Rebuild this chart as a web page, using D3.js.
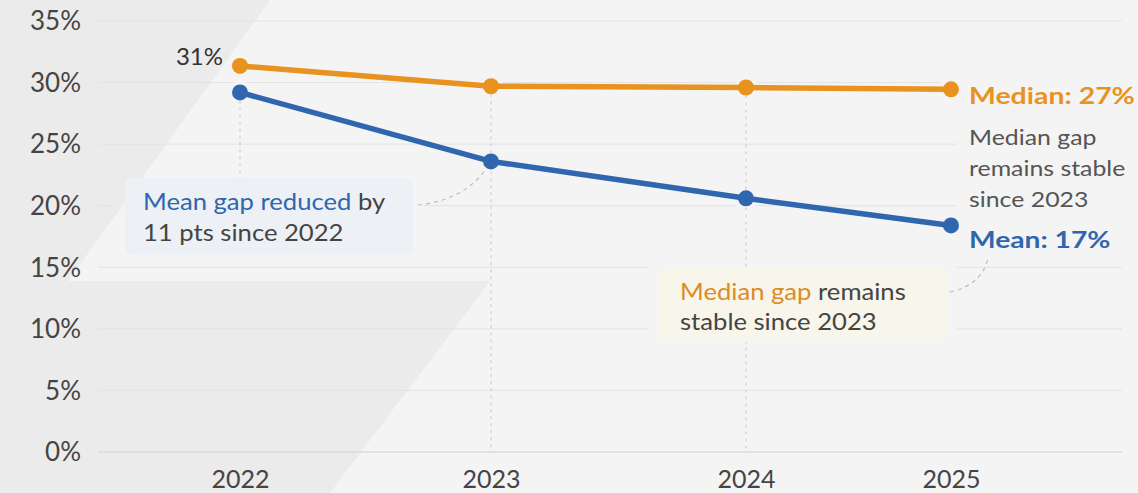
<!DOCTYPE html>
<html><head><meta charset="utf-8">
<script src="https://cdn.jsdelivr.net/npm/d3@7"></script>
<style>
html,body{margin:0;padding:0;background:#f4f4f4;}
svg{display:block;font-family:Lato, "Open Sans", sans-serif;}
</style></head>
<body>
<svg id="chart" width="1138" height="493"></svg>
<script>
const years = [2022, 2023, 2024, 2025];
const medianGap = [31.35, 29.7, 29.6, 29.45];
const meanGap = [29.2, 23.6, 20.6, 18.4];
const yTicks = [0, 5, 10, 15, 20, 25, 30, 35];
const firstLabel = "31%";
const medianLabel = "Median: 27%";
const meanLabel = "Mean: 17%";
const sideNote = ["Median gap", "remains stable", "since 2023"];

const W = 1138, H = 493;
const svg = d3.select("#chart");
const blue = "#2f66ae", orange = "#e8921f", bg = "#f4f4f4", dark = "#ebebeb";

const x = d3.scaleLinear().domain(years).range([240, 491, 746, 951]);
const y = d3.scaleLinear().domain([0, 35]).range([452, 21]);

// background shapes
svg.append("rect").attr("width", W).attr("height", H).attr("fill", bg);
svg.append("path").attr("fill", dark)
  .attr("d", "M0,0 L270,0 L68,281 L490,281 L330,493 L0,493 Z");

// mask for gridlines (halos)
const defs = svg.append("defs");
const mask = defs.append("mask").attr("id", "gm").attr("maskUnits", "userSpaceOnUse")
  .attr("x", 0).attr("y", 0).attr("width", W).attr("height", H);
mask.append("rect").attr("width", W).attr("height", H).attr("fill", "#fff");
mask.append("rect").attr("x", 113).attr("y", 166).attr("width", 311).attr("height", 100).attr("fill", "#000");
mask.append("rect").attr("x", 648).attr("y", 256).attr("width", 309).attr("height", 98).attr("fill", "#000");
mask.append("rect").attr("x", 957).attr("y", 74).attr("width", 181).attr("height", 186).attr("fill", "#000");
[medianGap, meanGap].forEach(s => s.forEach((v, i) =>
  mask.append("circle").attr("cx", x(years[i])).attr("cy", y(v)).attr("r", 12).attr("fill", "#000")));

// gridlines
const grid = svg.append("g").attr("mask", "url(#gm)");
grid.selectAll("line").data(yTicks).join("line")
  .attr("x1", 98).attr("x2", 1122)
  .attr("y1", d => y(d)).attr("y2", d => y(d))
  .attr("stroke", d => d === 0 ? "#dcdcdc" : "#e3e3e3").attr("stroke-width", d => d === 0 ? 1.5 : 1);

// y axis labels
const yAxis = d3.axisLeft(y).tickValues(yTicks).tickFormat(d => d + "%").tickSize(0).tickPadding(0);
const yg = svg.append("g").attr("transform", "translate(81,0)").call(yAxis);
yg.select(".domain").remove();
yg.selectAll("text").attr("font-size", 26).attr("fill", "#444").attr("font-family", "Lato, sans-serif").attr("dy", "0.34em");

// x axis labels
const xAxis = d3.axisBottom(x).tickValues(years).tickFormat(d3.format("d")).tickSize(0).tickPadding(0);
const xg = svg.append("g").attr("transform", "translate(0,470)").call(xAxis);
xg.select(".domain").remove();
xg.selectAll("text").attr("font-size", 25).attr("fill", "#444").attr("font-family", "Lato, sans-serif").attr("dy", "0.71em");

// vertical dotted guides
const guides = svg.append("g").attr("stroke", "#cfcfcf").attr("stroke-width", 1.2).attr("stroke-dasharray", "3,4");
guides.append("line").attr("x1", x(2022)).attr("x2", x(2022)).attr("y1", y(meanGap[0]) + 8).attr("y2", 178);
years.slice(1, 3).forEach((yr, i) => {
  guides.append("line").attr("x1", x(yr)).attr("x2", x(yr))
    .attr("y1", y(medianGap[i + 1]) + 8).attr("y2", y(0));
});

// annotation boxes
svg.append("rect").attr("x", 125).attr("y", 178).attr("width", 288).attr("height", 77).attr("rx", 6).attr("fill", "#edf1f5");
svg.append("rect").attr("x", 660).attr("y", 268).attr("width", 287).attr("height", 74).attr("rx", 6).attr("fill", "#f8f5ea");

// connectors
const conn = svg.append("g").attr("fill", "none").attr("stroke", "#bdbdbd").attr("stroke-width", 1.2).attr("stroke-dasharray", "4,4");
conn.append("path").attr("d", `M418,205 Q465,200 ${x(2023) - 4},${y(meanGap[1]) + 6}`);
conn.append("path").attr("d", "M950,292 Q982,285 988,258");

// lines
const line = d3.line().x((d, i) => x(years[i])).y(d => y(d));
svg.append("path").datum(medianGap).attr("d", line).attr("fill", "none").attr("stroke", orange).attr("stroke-width", 5.5).attr("stroke-linejoin", "round");
svg.append("path").datum(meanGap).attr("d", line).attr("fill", "none").attr("stroke", blue).attr("stroke-width", 5.5).attr("stroke-linejoin", "round");
svg.append("g").selectAll("circle").data(medianGap).join("circle")
  .attr("cx", (d, i) => x(years[i])).attr("cy", d => y(d)).attr("r", 8).attr("fill", orange);
svg.append("g").selectAll("circle").data(meanGap).join("circle")
  .attr("cx", (d, i) => x(years[i])).attr("cy", d => y(d)).attr("r", 8).attr("fill", blue);

// stretched text helper
function stext(px, py, sx, fs) {
  return svg.append("g").attr("transform", `translate(${px},${py}) scale(${sx},1)`)
    .append("text").attr("x", 0).attr("y", 0).attr("font-size", fs);
}

// texts
svg.append("text").attr("x", 223).attr("y", 65).attr("text-anchor", "end").attr("font-size", 24).attr("fill", "#333").text(firstLabel);

const t1 = stext(143, 210, 1.14, 22.5).attr("fill", "#444");
t1.append("tspan").attr("fill", blue).text("Mean gap reduced");
t1.append("tspan").text(" by");
stext(143, 241, 1.14, 22.5).attr("fill", "#444").text("11 pts since 2022");

const t2 = stext(680, 300, 1.14, 22.5).attr("fill", "#444");
t2.append("tspan").attr("fill", "#dd8c24").text("Median gap");
t2.append("tspan").text(" remains");
stext(680, 330, 1.14, 22.5).attr("fill", "#444").text("stable since 2023");

stext(969, 104, 1.21, 23.5).attr("font-weight", "bold").attr("fill", orange).text(medianLabel);
sideNote.forEach((d, i) => stext(969, 145 + i * 31, 1.13, 22).attr("fill", "#555").text(d));
stext(969, 248, 1.2, 23.5).attr("font-weight", "bold").attr("fill", blue).text(meanLabel);
</script>
</body></html>
